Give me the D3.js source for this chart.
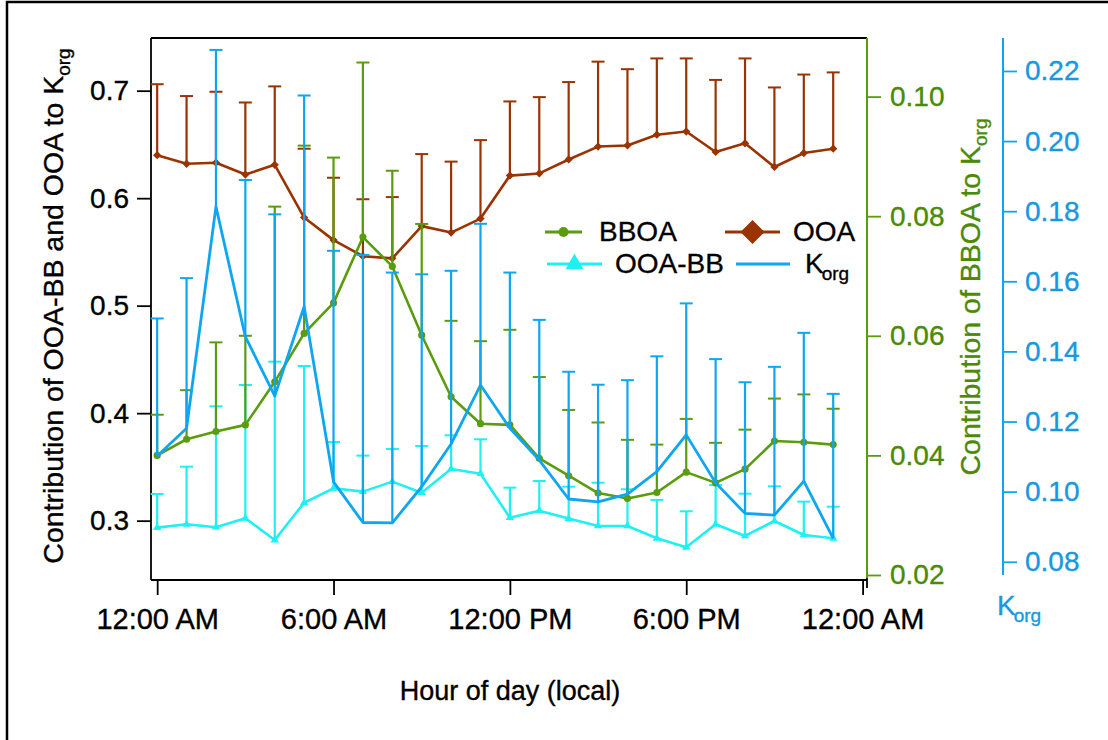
<!DOCTYPE html>
<html><head><meta charset="utf-8">
<script src="https://cdn.jsdelivr.net/npm/d3@7"></script>
<style>body{margin:0;background:#fff}svg{display:block}text{font-family:"Liberation Sans",Arial,Helvetica,sans-serif}</style>
</head><body><svg id="c" width="1108" height="740"></svg>
<script>
const hours=[0,1,2,3,4,5,6,7,8,9,10,11,12,13,14,15,16,17,18,19,20,21,22,23];
const ooa=[0.640,0.632,0.633,0.622,0.631,0.582,0.561,0.546,0.544,0.574,0.568,0.581,0.621,0.623,0.636,0.648,0.649,0.659,0.662,0.643,0.651,0.629,0.642,0.646];
const ooaErr=[0.066,0.063,0.066,0.067,0.073,0.064,0.058,0.053,0.057,0.067,0.066,0.073,0.069,0.071,0.072,0.079,0.071,0.071,0.068,0.067,0.079,0.074,0.073,0.071];
const bboa=[0.0400,0.0427,0.0440,0.0451,0.0523,0.0604,0.0655,0.0765,0.0716,0.0601,0.0498,0.0453,0.0451,0.0395,0.0366,0.0337,0.0328,0.0338,0.0372,0.0354,0.0377,0.0424,0.0422,0.0418];
const bboaErr=[0.0068,0.0082,0.0149,0.0149,0.0293,0.0314,0.0243,0.0292,0.0160,0.0186,0.0127,0.0138,0.0159,0.0136,0.0110,0.0118,0.0098,0.0080,0.0089,0.0067,0.0066,0.0071,0.0080,0.0060];
const ooabb=[0.2935,0.2966,0.2939,0.3022,0.2820,0.3167,0.3301,0.3270,0.3363,0.3260,0.3481,0.3437,0.3028,0.3093,0.3019,0.2951,0.2951,0.2836,0.2752,0.2966,0.2858,0.2997,0.2867,0.2836];
const ooabbErr=[0.0313,0.0536,0.1125,0.1240,0.1659,0.1272,0.0431,0.0335,0.0304,0.0435,0.0313,0.0320,0.0279,0.0276,0.0297,0.0402,0.0341,0.0357,0.0335,0.0366,0.0393,0.0323,0.0310,0.0294];
const korg=[0.1102,0.1181,0.1813,0.1442,0.1273,0.1528,0.1028,0.0912,0.0911,0.1014,0.1136,0.1304,0.1181,0.1090,0.0979,0.0971,0.0993,0.1057,0.1162,0.1025,0.0938,0.0933,0.1030,0.0867];
const korgErr=[0.0392,0.0428,0.0447,0.0447,0.0518,0.0602,0.0659,0.0763,0.0714,0.0606,0.0494,0.0460,0.0444,0.0400,0.0363,0.0334,0.0325,0.0329,0.0375,0.0353,0.0374,0.0423,0.0423,0.0412];
const xTickHours=[0,6,12,18,24];
const xTickLabels=["12:00 AM","6:00 AM","12:00 PM","6:00 PM","12:00 AM"];
const leftTicks=[0.3,0.4,0.5,0.6,0.7];
const greenTicks=[0.02,0.04,0.06,0.08,0.10];
const blueTicks=[0.08,0.10,0.12,0.14,0.16,0.18,0.20,0.22];

const BROWN="#993300",GREEN="#5a9c0e",GREENTXT="#4a8a06",CYAN="#1ff0f2",BLUE="#0ea6f0",BLUETXT="#1898e0";
const FS=28;
const svg=d3.select("#c");
svg.append("rect").attr("x",7).attr("y",2).attr("width",1120).attr("height",760).attr("fill","none").attr("stroke","#000").attr("stroke-width",2.5);

const L=151,R=867,T=38,B=580;
const x=d3.scaleLinear().domain([-0.21,24.15]).range([L,R]);
const yL=d3.scaleLinear().domain([0.2448,0.749]).range([B,T]);
const yG=d3.scaleLinear().domain([0.01916,0.1098]).range([B,T]);
const yB=d3.scaleLinear().domain([0.0748,0.2294]).range([B,T]);

function thicken(sel,color){sel.attr("stroke",color).attr("stroke-width",0.35);}
function styleAxis(g,color,txtColor,fs){
  g.selectAll("path").remove();
  g.selectAll(".tick line").attr("stroke",color).attr("stroke-width",1.8);
  const t=g.selectAll(".tick text").attr("fill",txtColor).style("font-size",(fs||FS)+"px");
  thicken(t,txtColor);
}
// left axis
const gl=svg.append("g").attr("transform",`translate(${L},0)`).call(d3.axisLeft(yL).tickValues(leftTicks).tickFormat(d3.format(".1f")).tickSize(14).tickPadding(8));
styleAxis(gl,"#000","#000");
// bottom axis
const gb=svg.append("g").attr("transform",`translate(0,${B})`).call(d3.axisBottom(x).tickValues(xTickHours).tickFormat((d,i)=>xTickLabels[i]).tickSize(15).tickPadding(13));
styleAxis(gb,"#000","#000",29);
// box
svg.append("line").attr("x1",L).attr("x2",R).attr("y1",T).attr("y2",T).attr("stroke","#000").attr("stroke-width",1.8);
svg.append("line").attr("x1",L).attr("x2",L).attr("y1",T).attr("y2",B).attr("stroke","#000").attr("stroke-width",1.8);
svg.append("line").attr("x1",L).attr("x2",R).attr("y1",B).attr("y2",B).attr("stroke","#000").attr("stroke-width",1.8);
svg.append("line").attr("x1",R).attr("x2",R).attr("y1",B-4).attr("y2",B+8).attr("stroke","#000").attr("stroke-width",1.8);
// green axis
const gg=svg.append("g").attr("transform",`translate(${R},0)`).call(d3.axisRight(yG).tickValues(greenTicks).tickFormat(d3.format(".2f")).tickSize(14).tickPadding(9));
styleAxis(gg,GREEN,GREENTXT);
svg.append("line").attr("x1",R).attr("x2",R).attr("y1",T).attr("y2",B-2).attr("stroke",GREEN).attr("stroke-width",2);
// blue axis
const BX=1003;
const gB=svg.append("g").attr("transform",`translate(${BX},0)`).call(d3.axisRight(yB).tickValues(blueTicks).tickFormat(d3.format(".2f")).tickSize(14).tickPadding(8));
styleAxis(gB,BLUE,BLUETXT);
svg.append("line").attr("x1",BX).attr("x2",BX).attr("y1",T).attr("y2",575).attr("stroke",BLUE).attr("stroke-width",2);

// titles
const t1=svg.append("text").attr("transform","translate(63,306) rotate(-90)").attr("text-anchor","middle").style("font-size","28.5px").attr("fill","#000");
t1.append("tspan").text("Contribution of OOA-BB and OOA to K");
t1.append("tspan").attr("dy",7).style("font-size","19px").text("org");
thicken(t1,"#000");
const t2=svg.append("text").attr("transform","translate(980,297) rotate(-90)").attr("text-anchor","middle").style("font-size","28.5px").attr("fill",GREENTXT);
t2.append("tspan").text("Contribution of BBOA to K");
t2.append("tspan").attr("dy",7).style("font-size","19px").text("org");
thicken(t2,GREENTXT);
const t3=svg.append("text").attr("x",997).attr("y",615).style("font-size",FS+"px").attr("fill",BLUETXT);
t3.append("tspan").text("K");
t3.append("tspan").attr("dy",7).attr("dx",-2).style("font-size","19px").text("org");
thicken(t3,BLUETXT);
const t4=svg.append("text").attr("x",510).attr("y",700).attr("text-anchor","middle").style("font-size","27px").attr("fill","#000").text("Hour of day (local)");
thicken(t4,"#000");

// series
function series(vals,errs,yS,color,lw,sym,symSize,rot){
  const g=svg.append("g");
  g.selectAll("line.st").data(hours).join("line").attr("x1",d=>x(d)).attr("x2",d=>x(d)).attr("y1",(d,i)=>yS(vals[i])).attr("y2",(d,i)=>yS(vals[i]+errs[i])).attr("stroke",color).attr("stroke-width",2.2);
  g.selectAll("line.cap").data(hours).join("line").attr("x1",d=>x(d)-6.5).attr("x2",d=>x(d)+6.5).attr("y1",(d,i)=>yS(vals[i]+errs[i])).attr("y2",(d,i)=>yS(vals[i]+errs[i])).attr("stroke",color).attr("stroke-width",2);
  const line=d3.line().x(d=>x(d)).y((d,i)=>yS(vals[i]));
  g.append("path").datum(hours).attr("d",line).attr("fill","none").attr("stroke",color).attr("stroke-width",lw).attr("stroke-linejoin","round");
  if(sym){
    g.selectAll("path.m").data(hours).join("path").attr("d",d3.symbol().type(sym).size(symSize)).attr("transform",(d,i)=>`translate(${x(d)},${yS(vals[i])}) rotate(${rot||0})`).attr("fill",color);
  }
}
series(ooa,ooaErr,yL,BROWN,2.6,d3.symbolSquare,34,45);
series(ooabb,ooabbErr,yL,CYAN,2.6,d3.symbolTriangle,30,0);
series(bboa,bboaErr,yG,GREEN,2.6,d3.symbolCircle,40,0);
series(korg,korgErr,yB,BLUE,2.8,null,0,0);

// legend
const lg=svg.append("g");
function legItem(x1,x2,cy,color,sym,size,rot,label,tx,sub){
  lg.append("line").attr("x1",x1).attr("x2",x2).attr("y1",cy).attr("y2",cy).attr("stroke",color).attr("stroke-width",3);
  if(sym) lg.append("path").attr("d",d3.symbol().type(sym).size(size)).attr("transform",`translate(${(x1+x2)/2},${cy}) rotate(${rot})`).attr("fill",color);
  const t=lg.append("text").attr("x",tx).attr("y",cy+9).style("font-size",FS+"px").attr("fill","#000");
  t.append("tspan").text(label);
  if(sub) t.append("tspan").attr("dy",7).attr("dx",-2).style("font-size","19px").text(sub);
  thicken(t,"#000");
}
legItem(545,582,232,GREEN,d3.symbolCircle,80,0,"BBOA",599);
legItem(725,780,232,BROWN,d3.symbolSquare,290,45,"OOA",793);
legItem(547,602,264,CYAN,d3.symbolTriangle,140,0,"OOA-BB",615);
legItem(736,790,264,BLUE,null,0,0,"K",805,"org");
</script></body></html>
